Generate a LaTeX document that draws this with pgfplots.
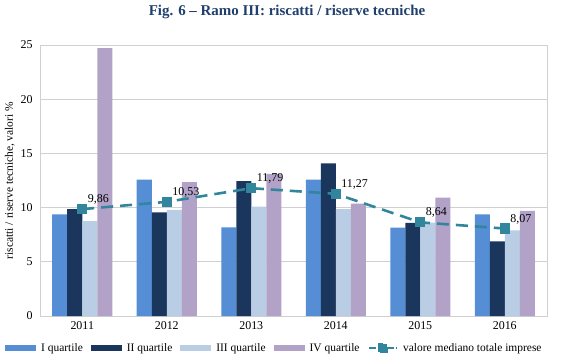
\documentclass[border=0pt]{standalone}
\usepackage{pgfplots}
\pgfplotsset{compat=1.18}
\usepackage{fontspec}
\setmainfont{Liberation Serif}
\definecolor{cI}{HTML}{558ED5}
\definecolor{cII}{HTML}{1B365D}
\definecolor{cIII}{HTML}{B9CDE5}
\definecolor{cIV}{HTML}{B3A2C7}
\definecolor{cline}{HTML}{31859C}
\definecolor{ctitle}{HTML}{1F3F6E}
\definecolor{cgrid}{HTML}{D0D0D0}
\pgfplotsset{
  barleg/.style={legend image code/.code={\fill[#1] (0bp,-3bp) rectangle (31bp,3bp);}},
  lineleg/.style={legend image code/.code={\draw[#1, dash pattern=on 7bp off 2bp] (0bp,0bp) -- (28bp,0bp); \fill[cline] (10bp,-4bp) rectangle (18bp,4bp);}},
}
\begin{document}
\begin{tikzpicture}
\useasboundingbox (0,0) rectangle (574bp,359bp);
\node[font=\fontsize{15}{17}\selectfont\bfseries, text=ctitle] at (287bp,347bp) {Fig. 6 – Ramo III: riscatti / riserve tecniche};
\begin{axis}[
  at={(40bp,43bp)}, anchor=south west,
  scale only axis, width=507bp, height=271bp,
  xmin=-0.5, xmax=5.5, ymin=0, ymax=25,
  xtick={0,1,2,3,4,5},
  xticklabels={2011,2012,2013,2014,2015,2016},
  ytick={0,5,10,15,20,25},
  ymajorgrids, grid style={cgrid, line width=0.8pt},
  axis line style={cgrid, line width=0.8pt},
  major tick length=0pt,
  tick label style={font=\fontsize{12}{14}\selectfont},
  /pgf/number format/assume math mode=true,
  yticklabel style={xshift=-4bp},
  xticklabel style={yshift=-2bp},
  ylabel={riscatti / riserve tecniche, valori \%},
  ylabel style={font=\fontsize{11.5}{13}\selectfont, yshift=-1bp},
  legend style={at={(-0.069,-0.085)}, anchor=north west, draw=none, legend columns=5,
    font=\fontsize{11.5}{13}\selectfont, inner xsep=0pt,
    /tikz/every odd column/.append style={column sep=3bp},
    /tikz/every even column/.append style={column sep=6bp}},
  legend cell align=left,
  clip=false,
]
\addplot[ybar, bar width=15bp, bar shift=-22.5bp, fill=cI, draw=none, barleg] coordinates {(0,9.38) (1,12.58) (2,8.18) (3,12.58) (4,8.15) (5,9.38)};
\addlegendentry{I quartile}
\addplot[ybar, bar width=15bp, bar shift=-7.5bp, fill=cII, draw=none, barleg] coordinates {(0,9.87) (1,9.56) (2,12.45) (3,14.08) (4,8.58) (5,6.89)};
\addlegendentry{II quartile}
\addplot[ybar, bar width=15bp, bar shift=7.5bp, fill=cIII, draw=none, barleg] coordinates {(0,8.76) (1,9.78) (2,10.09) (3,9.87) (4,8.61) (5,7.90)};
\addlegendentry{III quartile}
\addplot[ybar, bar width=15bp, bar shift=22.5bp, fill=cIV, draw=none, barleg] coordinates {(0,24.72) (1,12.36) (2,13.10) (3,10.36) (4,10.92) (5,9.69)};
\addlegendentry{IV quartile}
\addplot[cline, line width=2.6pt, dash pattern=on 12bp off 7bp, mark=square*, mark size=3.8bp, mark options={solid},
  nodes near coords, point meta=y,
  every node near coord/.append style={font=\fontsize{12}{14}\selectfont, text=black, anchor=south west, xshift=1bp, yshift=0bp,
    /pgf/number format/.cd, fixed, fixed zerofill, precision=2, use comma},
  lineleg
] coordinates {(0,9.86) (1,10.53) (2,11.79) (3,11.27) (4,8.64) (5,8.07)};
\addlegendentry{valore mediano totale imprese}
\end{axis}
\end{tikzpicture}
\end{document}
